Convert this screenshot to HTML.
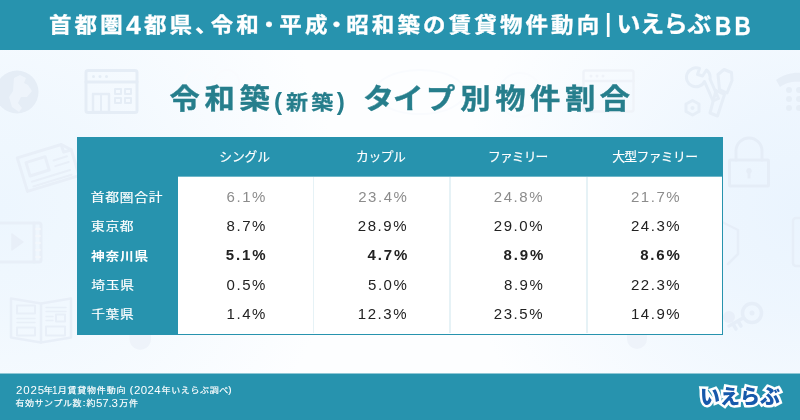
<!DOCTYPE html>
<html lang="ja">
<head>
<meta charset="utf-8">
<title>令和築(新築) タイプ別物件割合</title>
<style>
*{margin:0;padding:0;box-sizing:border-box}
html,body{width:800px;height:420px;overflow:hidden}
body{position:relative;font-family:"Liberation Sans","Noto Sans CJK JP",sans-serif;background:#f8fafe}
h1,h2,p{font:inherit}
.tx{position:absolute;display:block;line-height:1;white-space:nowrap;transform-origin:0 50%}
.bg{position:absolute;left:0;top:50px;width:800px;height:323px;background:radial-gradient(ellipse 340px 330px at 0 160px,#edf6fe 0%,rgba(237,246,254,.8) 30%,rgba(237,246,254,0) 100%),radial-gradient(ellipse 340px 330px at 800px 160px,#eaf4fe 0%,rgba(234,244,254,.8) 30%,rgba(234,244,254,0) 100%),#fdfeff}
.ic{position:absolute;left:0;top:0;filter:blur(.4px)}
.top{position:absolute;left:0;top:0;width:800px;height:50px;background:#2793ae}
.foot{position:absolute;left:0;top:373px;width:800px;height:47px;background:#2793ae;border-top:1px solid #8fc7d5}
.tbl{position:absolute;left:77px;top:137px;width:646px;height:198px;background:#2793ae}
.cells{position:absolute;left:178px;top:176px;width:544px;height:158px;background:#fff;border-top:1px solid #6fb7c9}
.vl{position:absolute;top:0;width:1.6px;height:156px;background:#e6f2f6}
.logo{position:absolute;left:700px;top:382px;font-size:20px;line-height:30px;font-weight:900;letter-spacing:0;color:#1759ab;-webkit-text-stroke:5px #fff;paint-order:stroke fill;white-space:nowrap;transform-origin:0 50%}
#h1{left:48.98px;top:14.13px;font-size:22.5px;letter-spacing:3.11px;font-weight:700;color:#fff;-webkit-text-stroke:0.35px #fff;transform:scale(1.000,0.930)}
#h2{left:126.46px;top:11.48px;font-size:28.6px;font-weight:700;color:#fff;-webkit-text-stroke:0.3px #fff;transform:scale(0.930,0.930)}
#h3{left:143.89px;top:14.13px;font-size:22.5px;letter-spacing:3.11px;font-weight:700;color:#fff;-webkit-text-stroke:0.35px #fff;transform:scale(1.000,0.930)}
#h4{left:195.1px;top:14.13px;font-size:22.5px;letter-spacing:2.8px;font-weight:700;color:#fff;-webkit-text-stroke:0.35px #fff;transform:scale(1.000,0.930)}
#h5{left:210.73px;top:14.13px;font-size:22.5px;letter-spacing:3.11px;font-weight:700;color:#fff;-webkit-text-stroke:0.35px #fff;transform:scale(1.000,0.930)}
#h6{left:257.84px;top:14.13px;font-size:22.5px;letter-spacing:2.8px;font-weight:700;color:#fff;-webkit-text-stroke:0.35px #fff;transform:scale(1.000,0.930)}
#h7{left:279.29px;top:14.13px;font-size:22.5px;letter-spacing:3.11px;font-weight:700;color:#fff;-webkit-text-stroke:0.35px #fff;transform:scale(1.000,0.930)}
#h8{left:325.33px;top:14.13px;font-size:22.5px;letter-spacing:2.8px;font-weight:700;color:#fff;-webkit-text-stroke:0.35px #fff;transform:scale(1.000,0.930)}
#h9{left:346.22px;top:14.13px;font-size:22.5px;letter-spacing:3.11px;font-weight:700;color:#fff;-webkit-text-stroke:0.35px #fff;transform:scale(1.000,0.930)}
#h10{left:604.17px;top:10.51px;font-size:25px;color:#fff;transform:scale(1.300,1.000)}
#h11{left:616.62px;top:12.23px;font-size:24px;letter-spacing:-0.44px;font-weight:700;color:#fff;-webkit-text-stroke:0.3px #fff;transform:scale(1.000,0.950)}
#h12{left:714.87px;top:13.05px;font-size:26.5px;letter-spacing:3.95px;font-weight:700;color:#fff;-webkit-text-stroke:0.3px #fff;transform:scale(0.850,1.000)}
#t1{left:169.62px;top:84.48px;font-size:30.3px;letter-spacing:4.61px;font-weight:700;color:#267e8c;-webkit-text-stroke:0.4px #267e8c;transform:scale(1.000,0.950)}
#t2a{left:273.92px;top:89.75px;font-size:24.3px;font-weight:700;color:#267e8c;transform:scale(1.000,0.960)}
#t2b{left:285.95px;top:91.77px;font-size:22px;letter-spacing:3.34px;font-weight:700;color:#267e8c;-webkit-text-stroke:0.3px #267e8c;transform:scale(1.000,0.930)}
#t2c{left:336.68px;top:89.75px;font-size:24.3px;font-weight:700;color:#267e8c;transform:scale(1.000,0.960)}
#t3{left:362.75px;top:84.48px;font-size:30.3px;letter-spacing:3.6px;font-weight:700;color:#267e8c;-webkit-text-stroke:0.4px #267e8c;transform:scale(1.030,0.950)}
#t4{left:393.12px;top:84.48px;font-size:30.3px;letter-spacing:3.6px;font-weight:700;color:#267e8c;-webkit-text-stroke:0.4px #267e8c;transform:scale(1.010,0.950)}
#t5{left:426.33px;top:84.48px;font-size:30.3px;letter-spacing:3.6px;font-weight:700;color:#267e8c;-webkit-text-stroke:0.4px #267e8c;transform:scale(0.966,0.950)}
#t6{left:460.23px;top:84.48px;font-size:30.3px;letter-spacing:4.61px;font-weight:700;color:#267e8c;-webkit-text-stroke:0.4px #267e8c;transform:scale(1.000,0.950)}
#c1{left:219.25px;top:151px;font-size:12.8px;letter-spacing:-0.13px;color:#fff;-webkit-text-stroke:0.15px #fff}
#c2{left:356.12px;top:151px;font-size:12.8px;letter-spacing:-0.47px;color:#fff;-webkit-text-stroke:0.15px #fff}
#c3{left:488px;top:151px;font-size:12.8px;letter-spacing:-0.9px;color:#fff;-webkit-text-stroke:0.15px #fff}
#c4{left:612.13px;top:151px;font-size:12.8px;letter-spacing:-0.63px;color:#fff;-webkit-text-stroke:0.15px #fff}
#r1{left:90.75px;top:191.34px;font-size:13.7px;letter-spacing:0.8px;color:#fff;-webkit-text-stroke:0.2px #fff;transform:scale(1.000,0.880)}
#r2{left:90.9px;top:219.62px;font-size:13.7px;letter-spacing:0.8px;color:#fff;-webkit-text-stroke:0.2px #fff;transform:scale(1.000,0.880)}
#r3{left:91px;top:249.5px;font-size:13.7px;letter-spacing:0.84px;font-weight:700;color:#fff;transform:scale(1.000,0.880)}
#r4{left:91.23px;top:279.3px;font-size:13.7px;letter-spacing:0.8px;color:#fff;-webkit-text-stroke:0.2px #fff;transform:scale(1.000,0.880)}
#r5{left:91.13px;top:307.8px;font-size:13.7px;letter-spacing:0.8px;color:#fff;-webkit-text-stroke:0.2px #fff;transform:scale(1.000,0.880)}
#v00{left:226.55px;top:188.85px;font-size:15px;letter-spacing:1.55px;color:#8c8c8c}
#v01{left:358.2px;top:188.85px;font-size:15px;letter-spacing:1.55px;color:#8c8c8c}
#v02{left:493.8px;top:188.85px;font-size:15px;letter-spacing:1.55px;color:#8c8c8c}
#v03{left:630.95px;top:188.85px;font-size:15px;letter-spacing:1.55px;color:#8c8c8c}
#v10{left:226.55px;top:218.3px;font-size:15px;letter-spacing:1.55px;color:#222}
#v11{left:357.8px;top:218.3px;font-size:15px;letter-spacing:1.55px;color:#222}
#v12{left:493.8px;top:218.3px;font-size:15px;letter-spacing:1.55px;color:#222}
#v13{left:630.95px;top:218.3px;font-size:15px;letter-spacing:1.55px;color:#222}
#v20{left:225.85px;top:247.45px;font-size:15px;letter-spacing:1.83px;font-weight:700;color:#222}
#v21{left:367.55px;top:247.45px;font-size:15px;letter-spacing:1.83px;font-weight:700;color:#222}
#v22{left:503.55px;top:247.45px;font-size:15px;letter-spacing:1.83px;font-weight:700;color:#222}
#v23{left:640.2px;top:247.45px;font-size:15px;letter-spacing:1.83px;font-weight:700;color:#222}
#v30{left:226.55px;top:276.8px;font-size:15px;letter-spacing:1.55px;color:#222}
#v31{left:368px;top:276.8px;font-size:15px;letter-spacing:1.55px;color:#222}
#v32{left:504px;top:276.8px;font-size:15px;letter-spacing:1.55px;color:#222}
#v33{left:630.95px;top:276.8px;font-size:15px;letter-spacing:1.55px;color:#222}
#v40{left:226.55px;top:305.65px;font-size:15px;letter-spacing:1.55px;color:#222}
#v41{left:357.8px;top:305.65px;font-size:15px;letter-spacing:1.55px;color:#222}
#v42{left:493.8px;top:305.65px;font-size:15px;letter-spacing:1.55px;color:#222}
#v43{left:630.95px;top:305.65px;font-size:15px;letter-spacing:1.55px;color:#222}
#f1a{left:15.55px;top:385.5px;font-size:10px;letter-spacing:0.75px;color:#fff;transform:scale(1.150,1.000)}
#f1b{left:43.76px;top:386.05px;font-size:9px;color:#fff;-webkit-text-stroke:0.2px #fff;transform:scale(1.000,0.930)}
#f1c{left:52.12px;top:385.5px;font-size:10px;color:#fff}
#f1d{left:57.63px;top:386.05px;font-size:9px;letter-spacing:0.8px;color:#fff;-webkit-text-stroke:0.2px #fff;transform:scale(1.000,0.930)}
#f1e{left:129.75px;top:384.62px;font-size:9.8px;color:#fff;-webkit-text-stroke:0.2px #fff;transform:scale(1.000,0.930)}
#f1f{left:133.75px;top:385.5px;font-size:10px;letter-spacing:0.29px;color:#fff;transform:scale(1.150,1.000)}
#f1g{left:161.5px;top:386.05px;font-size:9px;letter-spacing:0.64px;color:#fff;-webkit-text-stroke:0.2px #fff;transform:scale(1.000,0.930)}
#f1h{left:228.25px;top:384.5px;font-size:9.8px;color:#fff;-webkit-text-stroke:0.2px #fff;transform:scale(1.000,0.930)}
#f2a{left:15.41px;top:399.03px;font-size:9px;letter-spacing:0.57px;color:#fff;-webkit-text-stroke:0.2px #fff;transform:scale(1.000,0.930)}
#f2b{left:82.75px;top:398.25px;font-size:9.8px;color:#fff;-webkit-text-stroke:0.2px #fff;transform:scale(1.000,0.930)}
#f2c{left:86.62px;top:399.03px;font-size:9px;color:#fff;-webkit-text-stroke:0.2px #fff;transform:scale(1.000,0.930)}
#f2d{left:96.38px;top:398.5px;font-size:10px;letter-spacing:-0.15px;color:#fff;transform:scale(1.150,1.000)}
#f2e{left:119.3px;top:399.03px;font-size:9px;letter-spacing:0.8px;color:#fff;-webkit-text-stroke:0.2px #fff;transform:scale(1.000,0.930)}
</style>
</head>
<body>
<div class="bg"></div>
<svg class="ic" width="800" height="420" viewBox="0 0 800 420" fill="none" stroke="#e5edf6" stroke-width="3" stroke-linejoin="round" stroke-linecap="round">
<!-- globe -->
<circle cx="17" cy="92" r="21.5" fill="#e5edf6" stroke="none"/>
<path d="M14 78l6-3 6 3-2 5 4 2 4 6-5 6h-6l-3 6 4 5-3 4-7-5-3-10 4-6z" fill="#eef4fb" stroke="none"/>
<!-- browser window -->
<rect x="86" y="70.5" width="51" height="42" rx="2"/>
<path d="M86 82h51"/>
<rect x="93" y="94" width="16" height="18" stroke-width="2.5"/><path d="M101 94v18" stroke-width="2"/>
<rect x="115" y="89" width="6" height="5" stroke-width="2"/><rect x="125" y="89" width="6" height="5" stroke-width="2"/>
<rect x="115" y="98" width="6" height="5" stroke-width="2"/><rect x="125" y="98" width="6" height="5" stroke-width="2"/>
<circle cx="93.500" cy="76.500" r="1.500" fill="#e5edf6" stroke="none"/><circle cx="100" cy="76.500" r="1.500" fill="#e5edf6" stroke="none"/><circle cx="106.500" cy="76.500" r="1.500" fill="#e5edf6" stroke="none"/>
<!-- newspaper (rotated) -->
<g transform="translate(-1 -4) rotate(-17 50 170)" stroke-width="3" stroke="#e8eff8">
<path d="M22 153h46l8 8v27h-54z"/><path d="M68 153v8h8"/>
<rect x="29" y="160" width="20" height="14"/>
<path d="M29 180h40M29 185h40M56 166h14M56 172h14" stroke-width="2"/>
</g>
<!-- film -->
<g stroke="#e8eff8"><rect x="-4" y="223" width="45" height="39" rx="2"/><path d="M34 223v39" />
<path d="M12 234v16l11-8z" fill="#e8eff8" stroke-width="1.500"/>
<path d="M36.500 229h3M36.500 236h3M36.500 243h3M36.500 250h3M36.500 257h3" stroke-width="2.500" stroke="#f3f7fc"/></g>
<!-- open book -->
<g stroke="#e8eff8" stroke-width="2.500" transform="translate(0 -1.500)"><path d="M11 300l30 5 30-5v39l-30 5-30-5z"/><path d="M41 305v39"/>
<rect x="17" y="307" width="18" height="8" stroke-width="2"/><rect x="17" y="329" width="18" height="8" stroke-width="2"/>
<path d="M17 320h18M17 324h18M46 309h20M46 313h20" stroke-width="1.500"/>
<rect x="46" y="328" width="19" height="9" stroke-width="2"/><rect x="56" y="316" width="9" height="7" stroke-width="2"/><path d="M46 318h7M46 322h7" stroke-width="1.500"/></g>
<!-- wrench + screwdriver -->
<g stroke="#e6eef7" stroke-width="3">
<path d="M699.500 68.500a9.500 9.500 0 1 0 5 13l8.500 19.500 5.500-2.500-8.500-19.500a9.500 9.500 0 0 0-3.500-9l-4 6-5-1.500z"/>
<path d="M718 74.500l6-5 7.500 3 .5 8-5 12.500-7.500-3.500z"/><path d="M716 90.500l8.500 4-7 21.500-7.500-3z"/>
<path d="M692.500 100.500l6.500 3.500v7.500l-6.500 3.500-6.500-3.500v-7.500z"/>
</g>
<circle cx="692.500" cy="108" r="2" fill="#e6eef7" stroke="none"/>
<!-- phone -->
<g stroke="none" fill="#e6eef7"><path d="M776 80c8-6 18-8 26-7v9c-8-1-16 0-22 5z"/>
<circle cx="789" cy="90" r="3"/><circle cx="799" cy="90" r="3"/><circle cx="789" cy="99" r="3"/><circle cx="799" cy="99" r="3"/><circle cx="789" cy="108" r="3"/><circle cx="799" cy="108" r="3"/></g>
<!-- lock -->
<g stroke="#e5edf7" stroke-width="3"><rect x="729.500" y="160" width="39" height="26" rx="1"/><path d="M736 160v-9a13 13 0 0 1 26 0v9"/></g>
<path d="M749 168a3 3 0 0 1 1.500 5.500v5h-3v-5a3 3 0 0 1 1.500-5.500z" fill="#e5edf7" stroke="none"/>
<!-- shield / doc -->
<g stroke="#e6eef8" stroke-width="2.500"><path d="M722 222l16 8v24l-10 10"/><rect x="793" y="218" width="14" height="48" rx="3"/></g>
<!-- key -->
<g stroke="#e6eef8" stroke-width="3.500"><circle cx="752" cy="313" r="9.500"/><path d="M743 318l-14 8M733 324l3 5M738 321l3 5"/></g>
<circle cx="752" cy="313" r="2.500" fill="#e6eef8" stroke="none"/>
<circle cx="729" cy="317" r="6" fill="#e8eff9" stroke="none"/>
<!-- bulbs -->
<g fill="#eef3fa" stroke="none"><path d="M129.500 335h21.500v4a10.750 10.750 0 0 1-21.500 0z"/><path d="M627 335h20v4a10 10 0 0 1-20 0z"/></g>
<!-- faint browser behind title -->
<g stroke="#eff3f9" stroke-width="2.500"><rect x="583.500" y="70.500" width="50" height="41" rx="2"/><path d="M583.500 81h50"/></g>
<circle cx="591" cy="76" r="1.500" fill="#eff3f9" stroke="none"/><circle cx="597" cy="76" r="1.500" fill="#eff3f9" stroke="none"/><circle cx="603" cy="76" r="1.500" fill="#eff3f9" stroke="none"/>
<!-- faint circles behind title -->
<g stroke="#f9fbfe" stroke-width="2"><circle cx="197" cy="82" r="12"/><circle cx="227" cy="82" r="12"/><ellipse cx="420" cy="92" rx="45" ry="22"/><circle cx="520" cy="95" r="22"/></g>
</svg>
<header>
<div class="top"></div>
<h1><span class="tx" id="h1">首都圏</span><span class="tx" id="h2">4</span><span class="tx" id="h3">都県</span><span class="tx" id="h4">、</span><span class="tx" id="h5">令和</span><span class="tx" id="h6">・</span><span class="tx" id="h7">平成</span><span class="tx" id="h8">・</span><span class="tx" id="h9">昭和築の賃貸物件動向</span><span class="tx" id="h10">|</span><span class="tx" id="h11">いえらぶ</span><span class="tx" id="h12">BB</span></h1>
</header>
<main>
<h2><span class="tx" id="t1">令和築</span><span class="tx" id="t2a">(</span><span class="tx" id="t2b">新築</span><span class="tx" id="t2c">)</span> <span class="tx" id="t3">タ</span><span class="tx" id="t4">イ</span><span class="tx" id="t5">プ</span><span class="tx" id="t6">別物件割合</span></h2>
<div class="tbl"></div>
<div class="cells"><div class="vl" style="left:134.5px"></div><div class="vl" style="left:271.25px"></div><div class="vl" style="left:408px"></div></div>
<div class="thead"><span class="tx" id="c1">シングル</span><span class="tx" id="c2">カップル</span><span class="tx" id="c3">ファミリー</span><span class="tx" id="c4">大型ファミリー</span></div>
<div class="tr"><span class="tx" id="r1">首都圏合計</span><span class="tx" id="v00">6.1%</span><span class="tx" id="v01">23.4%</span><span class="tx" id="v02">24.8%</span><span class="tx" id="v03">21.7%</span></div>
<div class="tr"><span class="tx" id="r2">東京都</span><span class="tx" id="v10">8.7%</span><span class="tx" id="v11">28.9%</span><span class="tx" id="v12">29.0%</span><span class="tx" id="v13">24.3%</span></div>
<div class="tr"><span class="tx" id="r3">神奈川県</span><span class="tx" id="v20">5.1%</span><span class="tx" id="v21">4.7%</span><span class="tx" id="v22">8.9%</span><span class="tx" id="v23">8.6%</span></div>
<div class="tr"><span class="tx" id="r4">埼玉県</span><span class="tx" id="v30">0.5%</span><span class="tx" id="v31">5.0%</span><span class="tx" id="v32">8.9%</span><span class="tx" id="v33">22.3%</span></div>
<div class="tr"><span class="tx" id="r5">千葉県</span><span class="tx" id="v40">1.4%</span><span class="tx" id="v41">12.3%</span><span class="tx" id="v42">23.5%</span><span class="tx" id="v43">14.9%</span></div>
</main>
<footer>
<div class="foot"></div>
<p><span class="tx" id="f1a">2025</span><span class="tx" id="f1b">年</span><span class="tx" id="f1c">1</span><span class="tx" id="f1d">月賃貸物件動向</span> <span class="tx" id="f1e">(</span><span class="tx" id="f1f">2024</span><span class="tx" id="f1g">年いえらぶ調べ</span><span class="tx" id="f1h">)</span></p>
<p><span class="tx" id="f2a">有効サンプル数</span><span class="tx" id="f2b">:</span><span class="tx" id="f2c">約</span><span class="tx" id="f2d">57.3</span><span class="tx" id="f2e">万件</span></p>
<div class="logo">いえらぶ</div>
</footer>
</body>
</html>
